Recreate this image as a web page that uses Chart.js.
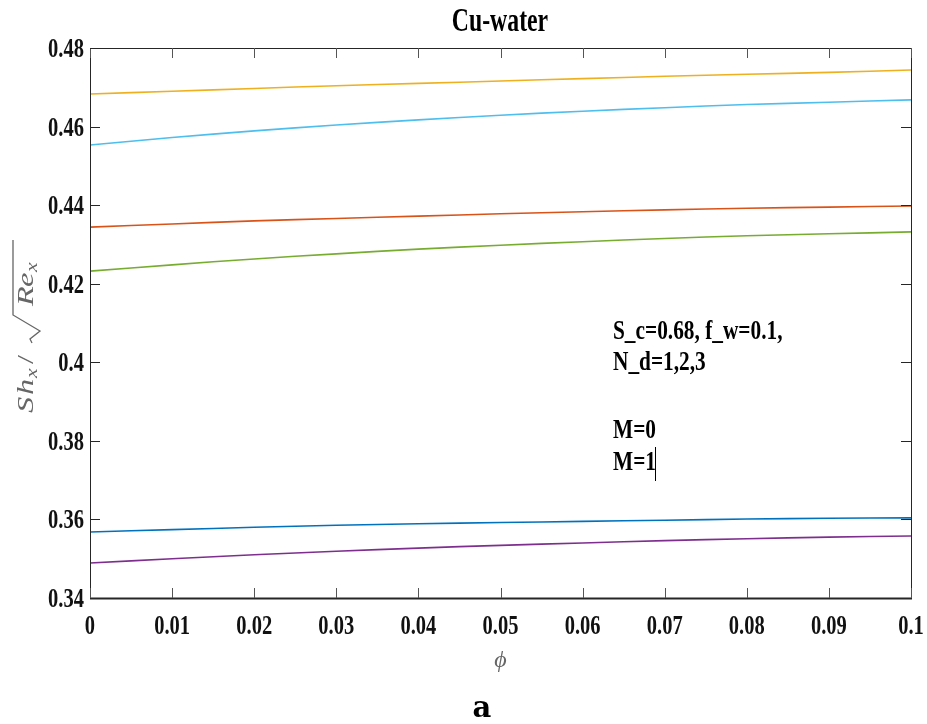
<!DOCTYPE html>
<html>
<head>
<meta charset="utf-8">
<script src="https://cdn.jsdelivr.net/npm/chart.js@4/dist/chart.umd.min.js"></script>
<style>
  html, body { margin: 0; padding: 0; background: #fff; }
  #wrap { width: 927px; height: 724px; position: relative; }
</style>
</head>
<body>
<div id="wrap"><canvas id="c" width="927" height="724"></canvas></div>
<script>
const phi = [0, 0.01, 0.02, 0.03, 0.04, 0.05, 0.06, 0.07, 0.08, 0.09, 0.1];
const yTicks = [0.34, 0.36, 0.38, 0.40, 0.42, 0.44, 0.46, 0.48];

const yellowLine = [0.4683, 0.4690, 0.4697, 0.4704, 0.4710, 0.4716, 0.4722, 0.4728, 0.4733, 0.4738, 0.4744];
const cyanLine   = [0.4553, 0.4572, 0.4589, 0.4604, 0.4617, 0.4629, 0.4639, 0.4648, 0.4656, 0.4662, 0.4668];
const orangeLine = [0.4344, 0.4352, 0.4360, 0.4366, 0.4372, 0.4378, 0.4383, 0.4388, 0.4392, 0.4395, 0.4398];
const greenLine  = [0.4232, 0.4248, 0.4263, 0.4276, 0.4288, 0.4298, 0.4307, 0.4315, 0.4322, 0.4327, 0.4332];
const blueLine   = [0.3568, 0.3574, 0.3580, 0.3585, 0.3589, 0.3592, 0.3595, 0.3598, 0.3601, 0.3603, 0.3604];
const purpleLine = [0.3489, 0.3500, 0.3510, 0.3519, 0.3527, 0.3534, 0.3540, 0.3546, 0.3551, 0.3555, 0.3558];

const series = [
  { label: 'N_d=1, M=0', data: yellowLine, color: '#EDB120' },
  { label: 'N_d=2, M=0', data: cyanLine, color: '#4DBEEE' },
  { label: 'N_d=1, M=1', data: orangeLine, color: '#D95319' },
  { label: 'N_d=2, M=1', data: greenLine, color: '#77AC30' },
  { label: 'N_d=3, M=0', data: blueLine, color: '#0072BD' },
  { label: 'N_d=3, M=1', data: purpleLine, color: '#7E2F8E' }
];

const serif = '"Liberation Serif", "Times New Roman", serif';
const fmt = v => String(+v.toFixed(2));

// text squeezed horizontally, like the stretched MATLAB export
function squeezed(ctx, text, x, y, size, sx, align) {
  ctx.save();
  ctx.translate(x, y);
  ctx.scale(sx, 1);
  ctx.font = 'bold ' + size + 'px ' + serif;
  ctx.textAlign = align;
  ctx.fillText(text, 0, 0);
  ctx.restore();
}

// one glyph of the rotated y label, stretched along the axis
function piece(ctx, text, u, v, font) {
  ctx.save();
  ctx.translate(u, v);
  ctx.scale(1.35, 1);
  ctx.font = font;
  ctx.fillText(text, 0, 0);
  ctx.restore();
}

// MATLAB-style box with inward ticks, plus titles and annotation text
const matlabFrame = {
  id: 'matlabFrame',
  afterDraw(chart) {
    const ctx = chart.ctx;
    const a = chart.chartArea;
    const xs = chart.scales.x, ys = chart.scales.y;
    ctx.save();
    ctx.strokeStyle = '#262626';
    ctx.lineWidth = 1;
    ctx.strokeRect(a.left + 0.5, a.top + 0.5, a.right - a.left, a.bottom - a.top);
    ctx.lineWidth = 2;
    ctx.beginPath();
    ctx.moveTo(a.left, a.bottom + 0.5);
    ctx.lineTo(a.right + 1, a.bottom + 0.5);
    ctx.stroke();
    ctx.lineWidth = 1;
    const tl = 10;
    ctx.strokeStyle = '#555';
    ctx.beginPath();
    xs.ticks.forEach(t => {
      const px = Math.round(xs.getPixelForValue(t.value)) + 0.5;
      ctx.moveTo(px, a.bottom); ctx.lineTo(px, a.bottom - tl);
      ctx.moveTo(px, a.top); ctx.lineTo(px, a.top + tl);
    });
    ctx.stroke();
    ctx.strokeStyle = '#262626';
    ctx.beginPath();
    ys.ticks.forEach(t => {
      const py = Math.round(ys.getPixelForValue(t.value)) + 0.5;
      ctx.moveTo(a.left, py); ctx.lineTo(a.left + tl, py);
      ctx.moveTo(a.right, py); ctx.lineTo(a.right - tl, py);
    });
    ctx.stroke();

    // tick labels
    ctx.fillStyle = '#111';
    ctx.textBaseline = 'middle';
    xs.ticks.forEach(t => {
      squeezed(ctx, fmt(t.value), xs.getPixelForValue(t.value), 627, 27, 0.76, 'center');
    });
    ys.ticks.forEach(t => {
      squeezed(ctx, fmt(t.value), 84, ys.getPixelForValue(t.value) + 2, 27, 0.76, 'right');
    });

    // title
    ctx.fillStyle = '#000';
    squeezed(ctx, 'Cu-water', 500, 22, 33, 0.72, 'center');

    // x axis title
    ctx.fillStyle = '#666';
    ctx.textAlign = 'center';
    ctx.font = 'italic 24px ' + serif;
    ctx.fillText('\u03D5', (a.left + a.right) / 2, 661);

    // y axis title: Sh_x / sqrt(Re_x)
    ctx.save();
    ctx.translate(33, 417);
    ctx.rotate(-Math.PI / 2);
    ctx.textAlign = 'left';
    ctx.textBaseline = 'alphabetic';
    const big = 'italic 24px ' + serif, small = 'italic 16px ' + serif;
    piece(ctx, 'S', 4, 0, big);
    piece(ctx, 'h', 22, 0, big);
    piece(ctx, 'x', 39, 4, small);
    piece(ctx, '/', 53, 0, '24px ' + serif);
    ctx.strokeStyle = '#666';
    ctx.lineWidth = 1.3;
    ctx.beginPath();
    ctx.moveTo(74, -1);
    ctx.lineTo(78, -3);
    ctx.lineTo(86, 7);
    ctx.lineTo(102, -20);
    ctx.lineTo(177, -20);
    ctx.stroke();
    piece(ctx, 'R', 111, 0, big);
    piece(ctx, 'e', 130, 0, big);
    piece(ctx, 'x', 145, 4, small);
    ctx.restore();

    // panel label
    ctx.fillStyle = '#000';
    ctx.textAlign = 'center';
    ctx.textBaseline = 'alphabetic';
    ctx.font = 'bold 29px "DejaVu Serif", serif';
    ctx.fillText('a', 482, 717);

    // annotation
    ctx.textBaseline = 'middle';
    squeezed(ctx, 'S_c=0.68, f_w=0.1,', 613, 332, 27, 0.79, 'left');
    squeezed(ctx, 'N_d=1,2,3', 613, 363, 27, 0.79, 'left');
    squeezed(ctx, 'M=0', 613, 431, 27, 0.79, 'left');
    squeezed(ctx, 'M=1', 613, 463, 27, 0.79, 'left');
    ctx.strokeStyle = '#000';
    ctx.lineWidth = 1;
    ctx.beginPath();
    ctx.moveTo(655.5, 447); ctx.lineTo(655.5, 481);
    ctx.stroke();
    ctx.restore();
  }
};

new Chart(document.getElementById('c'), {
  type: 'line',
  data: {
    datasets: series.map(s => ({
      label: s.label,
      data: phi.map((x, i) => ({ x, y: s.data[i] })),
      borderColor: s.color,
      borderWidth: 1.6,
      pointRadius: 0,
      tension: 0.4,
      fill: false
    }))
  },
  options: {
    responsive: false,
    animation: false,
    layout: { padding: { left: 0, right: 16, top: 48, bottom: 0 } },
    plugins: {
      legend: { display: false },
      tooltip: { enabled: false }
    },
    scales: {
      x: {
        type: 'linear',
        min: 0,
        max: 0.1,
        afterBuildTicks: scale => { scale.ticks = phi.map(v => ({ value: v })); },
        afterFit: scale => { scale.height = 126; scale.paddingLeft = 0; scale.paddingRight = 0; },
        grid: { display: false, drawTicks: false },
        border: { display: false },
        ticks: { display: false }
      },
      y: {
        type: 'linear',
        min: 0.34,
        max: 0.48,
        afterBuildTicks: scale => { scale.ticks = yTicks.map(v => ({ value: v })); },
        afterFit: scale => { scale.width = 90; scale.paddingTop = 0; scale.paddingBottom = 0; },
        grid: { display: false, drawTicks: false },
        border: { display: false },
        ticks: { display: false }
      }
    }
  },
  plugins: [matlabFrame]
});
</script>
</body>
</html>
